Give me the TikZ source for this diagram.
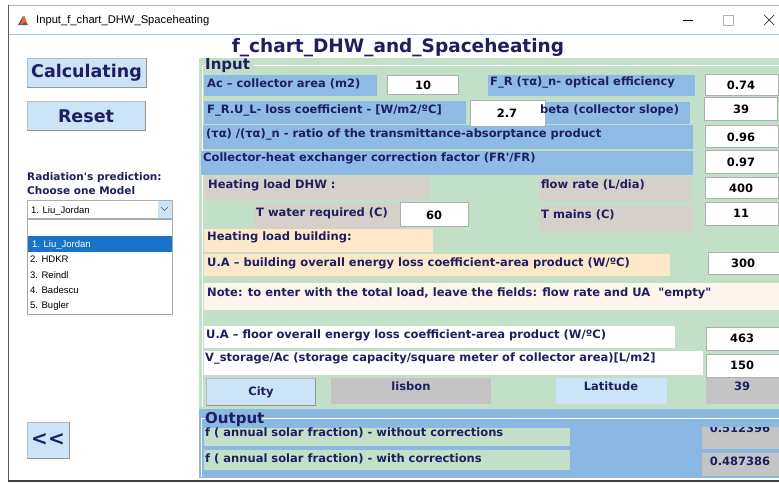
\documentclass[tikz,border=0pt]{standalone}
\usepackage{fontspec}
\newfontfamily\uifont{DejaVu Sans}
\newfontfamily\winfont{Liberation Sans}

\definecolor{navy}{RGB}{30,30,98}
\definecolor{panelgreen}{RGB}{194,223,200}
\definecolor{lblblue}{RGB}{141,187,229}
\definecolor{outblue}{RGB}{138,184,226}
\definecolor{dhwgray}{RGB}{213,208,202}
\definecolor{peach}{RGB}{253,233,202}
\definecolor{cream}{RGB}{254,246,236}
\definecolor{citygray}{RGB}{196,196,196}
\definecolor{btnblue}{RGB}{204,228,247}
\definecolor{btnshade}{RGB}{150,150,150}
\definecolor{editgray}{RGB}{175,175,175}
\definecolor{selblue}{RGB}{24,116,200}
\definecolor{barline}{RGB}{160,200,235}
\colorlet{btngray}{gray!55}

\tikzset{
  ui/.style={inner sep=0pt, text=navy, font=\uifont\bfseries\fontsize{11.5}{13}\selectfont},
  lbl/.style={ui, anchor=west},
  num/.style={ui, text=black},
  outnum/.style={ui},
  hdr/.style={ui, anchor=west, font=\uifont\bfseries\fontsize{15}{17}\selectfont},
  btntext/.style={ui, font=\uifont\bfseries\fontsize{17.5}{20}\selectfont},
  listtext/.style={inner sep=0pt, anchor=west, text=black, font=\winfont\fontsize{9.5}{11}\selectfont},
  edit/.style={fill=white, draw=editgray, line width=0.8pt},
  btn/.style={fill=btnblue, draw=btngray, line width=0.7pt},
}

\begin{document}
\begin{tikzpicture}[x=1pt,y=-1pt]
\useasboundingbox (0,0) rectangle (779,482);
\fill[white] (0,0) rectangle (779,482);

% ---- window frame and title bar
\draw[gray!60, line width=0.8pt] (8,5) -- (779,5);
\draw[gray!70!black, line width=1pt] (8,5) -- (8,481);
\draw[black!75, line width=1.4pt] (8,481) -- (779,481);
\draw[barline, line width=0.8pt] (8.5,34.5) -- (779,34.5);

% window icon
\fill[blue!55!black!70] (18,25) -- (23,16) -- (28,25) -- cycle;
\fill[orange!85!red] (20,25) -- (24,15) -- (28,25) -- (25,22) -- cycle;
\node[anchor=west, inner sep=0pt, font=\winfont\fontsize{11.2}{13}\selectfont] (wintitle) at (36,20.5) {Input\_f\_chart\_DHW\_Spaceheating};

% minimise / maximise / close
\draw[black, line width=0.6pt] (683,20.5) -- (693,20.5);
\draw[gray!60, line width=0.6pt] (723,15.5) rectangle (733,25.5);
\draw[black!80, line width=0.7pt] (764,15) -- (774,25) (764,25) -- (774,15);

% ---- figure heading
\node[ui, font=\uifont\bfseries\fontsize{18.5}{22}\selectfont] (heading) at (398,47.5) {f\_chart\_DHW\_and\_Spaceheating};

% ---- left column: buttons and model list
\path[btn] (27,58) rectangle (146,87);
\draw[btnshade, line width=0.9pt] (146,58) -- (146,87) -- (27,87);
\node[btntext] (calc) at (86.5,72.5) {Calculating};

\path[btn] (27,101) rectangle (145,130);
\draw[btnshade, line width=0.9pt] (145,101) -- (145,130) -- (27,130);
\node[btntext] (reset) at (86,116) {Reset};

\node[lbl, font=\uifont\bfseries\fontsize{10.5}{12}\selectfont] (radq) at (27,178) {Radiation's prediction:};
\node[lbl, font=\uifont\bfseries\fontsize{10.5}{12}\selectfont] (choose) at (27,190.5) {Choose one Model};

% drop-down
\draw[editgray, fill=white, line width=0.7pt] (27,200) rectangle (172,218);
\fill[btnblue] (157.5,200.5) rectangle (171.5,217.5);
\draw[gray!70!black, line width=0.6pt] (161,207) -- (164.5,210.5) -- (168,207);
\node[listtext] (ddval) at (31,210.5) {1. Liu\_Jordan};

% open list
\draw[gray!70, fill=white, line width=0.7pt] (27,219) rectangle (172,314);
\fill[selblue] (27.5,236) rectangle (171.5,252);
\node[listtext, text=white] (m1) at (32,244.5) {1. Liu\_Jordan};
\node[listtext] (m2) at (30,259.5) {2. HDKR};
\node[listtext] (m3) at (30,275) {3. Reindl};
\node[listtext] (m4) at (30,290.5) {4. Badescu};
\node[listtext] (m5) at (30,306) {5. Bugler};

% back button
\path[btn] (27,422) rectangle (69,458);
\draw[btnshade, line width=0.9pt] (69,422) -- (69,458) -- (27,458);
\node[btntext, font=\uifont\bfseries\fontsize{20}{22}\selectfont] (back) at (48,440) {<<};

% ---- input panel
\fill[panelgreen] (199,58) rectangle (779,409);
\draw[white, line width=0.9pt] (254,65) -- (779,65);
\draw[white, line width=0.9pt] (205,65) -- (202,65) -- (202,407);
\node[hdr] (inputhdr) at (205,66) {Input};

% label backgrounds
\fill[lblblue] (204,75) rectangle (377,96);
\fill[lblblue] (488,75) rectangle (695,96);
\fill[lblblue] (204,101) rectangle (466,124);
\fill[lblblue] (537,102) rectangle (690,124);
\fill[lblblue] (203,125) rectangle (693,149);
\fill[lblblue] (201,151) rectangle (693,175);
\fill[dhwgray] (204,177) rectangle (430,200);
\fill[dhwgray] (539,177) rectangle (691,201);
\fill[dhwgray] (254,203) rectangle (400,231);
\fill[dhwgray] (539,206) rectangle (693,231);
\fill[peach] (204,229) rectangle (433,252);
\fill[peach] (204,254) rectangle (670,276);
\fill[cream] (204,283) rectangle (779,310);
\fill[white] (204,326) rectangle (675,348);
\fill[white] (204,351) rectangle (703,375);
\fill[citygray] (331,378) rectangle (491,404);
\fill[btnblue] (556,378) rectangle (667,404);
\fill[citygray] (706,378) rectangle (779,404);

% edit fields
\path[edit] (387,75) rectangle (458,94);
\path[edit] (705,74) rectangle (778,95);
\path[edit] (470,100) rectangle (545,126);
\path[edit] (704,97) rectangle (777,120);
\path[edit] (705,125) rectangle (778,147);
\path[edit] (705,150) rectangle (778,173);
\path[edit] (705,177) rectangle (778,198);
\path[edit] (400,202) rectangle (468,226);
\path[edit] (705,202) rectangle (778,225);
\path[edit] (708,252) rectangle (779,274);
\path[edit] (706,327) rectangle (779,350);
\path[edit] (706,354) rectangle (779,377);

% city button
\path[btn] (206,378) rectangle (315,405);
\draw[btnshade, line width=0.9pt] (315,378) -- (315,405) -- (206,405);

% label texts
\node[lbl] (tAc) at (207,84) {Ac – collector area (m2)};
\node[lbl] (tFR) at (490,82) {F\_R (τα)\_n- optical efficiency};
\node[lbl] (tUL) at (207,110) {F\_R.U\_L- loss coefficient - [W/m2/ºC]};
\node[lbl] (tbeta) at (540,110) {beta (collector slope)};
\node[lbl] (tratio) at (206,134) {(τα) /(τα)\_n - ratio of the transmittance-absorptance product};
\node[lbl] (tcorr) at (203,158) {Collector-heat exchanger correction factor (FR'/FR)};
\node[lbl] (tdhw) at (208,185) {Heating load DHW :};
\node[lbl] (tflow) at (541,185) {flow rate (L/dia)};
\node[lbl] (twater) at (256,213) {T water required (C)};
\node[lbl] (tmains) at (541,215) {T mains (C)};
\node[lbl] (tbld) at (207,237) {Heating load building:};
\node[lbl] (tUAb) at (207,263) {U.A – building overall energy loss coefficient-area product (W/ºC)};
\node[lbl] (tnote) at (207,293) {Note: to enter with the total load, leave the fields: flow rate and UA\ \ "empty"};
\node[lbl] (tUAf) at (206,335) {U.A – floor overall energy loss coefficient-area product (W/ºC)};
\node[lbl] (tVs) at (205,358) {V\_storage/Ac (storage capacity/square meter of collector area)[L/m2]};
\node[ui] (tcity) at (261,392) {City};
\node[ui] (tlisbon) at (411,386) {lisbon};
\node[ui] (tlat) at (611,386) {Latitude};
\node[ui] (tlatv) at (742,386) {39};

% field values
\node[num] (vAc) at (423,85) {10};
\node[num] (vFR) at (741,85) {0.74};
\node[num] (vUL) at (507,113.5) {2.7};
\node[num] (vbeta) at (741,109) {39};
\node[num] (vratio) at (741,137) {0.96};
\node[num] (vcorr) at (741,162) {0.97};
\node[num] (vflow) at (741,188) {400};
\node[num] (vwater) at (434,215) {60};
\node[num] (vmains) at (741,213) {11};
\node[num] (vUAb) at (743,263) {300};
\node[num] (vUAf) at (742,338) {463};
\node[num] (vVs) at (742,365.5) {150};

% ---- output panel
\fill[outblue] (199,409) rectangle (779,478);
\draw[white, line width=0.9pt] (262,418) -- (779,418);
\draw[white, line width=0.9pt] (205,418) -- (201,418) -- (201,477);
\node[hdr] (outhdr) at (205,419.5) {Output};

\fill[panelgreen] (204,428) rectangle (570,446);
\fill[panelgreen] (204,450) rectangle (570,470);
\fill[citygray] (702,427) rectangle (779,449);
\fill[citygray] (702,453) rectangle (779,476);

\node[lbl] (fno) at (205,432.5) {f ( annual solar fraction) - without corrections};
\node[lbl] (fwith) at (205,458.5) {f ( annual solar fraction) - with corrections};

\begin{scope}
  \clip (702,427) rectangle (779,449);
  \node[outnum, anchor=base] (vfno) at (740,432) {0.512396};
\end{scope}
\node[outnum] (vfwith) at (740,461) {0.487386};
\end{tikzpicture}
\end{document}
